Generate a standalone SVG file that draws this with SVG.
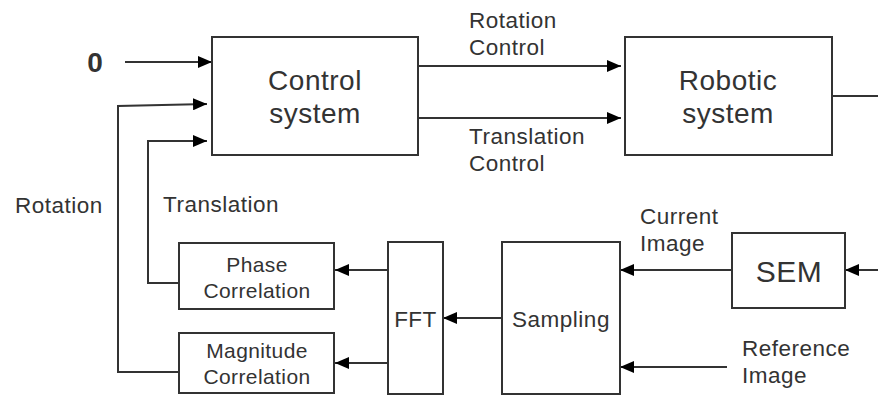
<svg xmlns="http://www.w3.org/2000/svg" width="878" height="396" viewBox="0 0 878 396">
<defs>
<style>
.box{fill:#fff;stroke:#333;stroke-width:2}
.ln{fill:none;stroke:#333;stroke-width:2}
text{font-family:"Liberation Sans",Arial,sans-serif;fill:#333}
.big{font-size:28px;text-anchor:middle;letter-spacing:0.5px}
.mid{font-size:22.5px;letter-spacing:0.5px}
.sm{font-size:21px;text-anchor:middle;letter-spacing:0.4px}
</style>
<marker id="ah" viewBox="0 0 14 12" refX="14" refY="6" markerWidth="14" markerHeight="12" markerUnits="userSpaceOnUse" orient="auto">
<path d="M0,0 L14,6 L0,12 Z" fill="#000"/>
</marker>
</defs>
<rect width="878" height="396" fill="#fff"/>
<g id="connectors">
<line class="ln" x1="125" y1="62" x2="212" y2="62" marker-end="url(#ah)"/>
<polyline class="ln" points="179,372 118,372 118,106 207,104" marker-end="url(#ah)"/>
<polyline class="ln" points="179,283 148,283 148,141 207,141" marker-end="url(#ah)"/>
<line class="ln" x1="418" y1="66" x2="621" y2="66" marker-end="url(#ah)"/>
<line class="ln" x1="418" y1="118" x2="621" y2="118" marker-end="url(#ah)"/>
<line class="ln" x1="832" y1="96" x2="878" y2="96"/>
<line class="ln" x1="388" y1="270" x2="335" y2="270" marker-end="url(#ah)"/>
<line class="ln" x1="388" y1="363" x2="335" y2="363" marker-end="url(#ah)"/>
<line class="ln" x1="502" y1="318" x2="443" y2="318" marker-end="url(#ah)"/>
<line class="ln" x1="732" y1="270" x2="620" y2="270" marker-end="url(#ah)"/>
<line class="ln" x1="878" y1="270" x2="845" y2="270" marker-end="url(#ah)"/>
<line class="ln" x1="727" y1="367" x2="620" y2="367" marker-end="url(#ah)"/>
<text class="mid" x="469" y="28">Rotation</text>
<text class="mid" x="469" y="55">Control</text>
<text class="mid" x="469" y="144">Translation</text>
<text class="mid" x="469" y="171">Control</text>
<text class="mid" x="15" y="213">Rotation</text>
<text class="mid" x="163" y="212">Translation</text>
<text class="mid" x="640" y="224">Current</text>
<text class="mid" x="640" y="251">Image</text>
<text class="mid" x="742" y="356">Reference</text>
<text class="mid" x="742" y="383">Image</text>
</g>
<g id="zero"><text x="95" y="72" style="font-size:28px;font-weight:bold;text-anchor:middle">0</text></g>
<g id="control">
<rect class="box" x="212" y="37" width="206" height="118"/>
<text class="big" x="315" y="90">Control</text>
<text class="big" x="315" y="123">system</text>
</g>
<g id="robotic">
<rect class="box" x="625" y="37" width="207" height="118"/>
<text class="big" x="728" y="90">Robotic</text>
<text class="big" x="728" y="123">system</text>
</g>
<g id="phase">
<rect class="box" x="179" y="243" width="155" height="66"/>
<text class="sm" x="257" y="272">Phase</text>
<text class="sm" x="257" y="298">Correlation</text>
</g>
<g id="magnitude">
<rect class="box" x="179" y="333" width="155" height="60"/>
<text class="sm" x="257" y="358">Magnitude</text>
<text class="sm" x="257" y="384">Correlation</text>
</g>
<g id="fft">
<rect class="box" x="388" y="242" width="55" height="152"/>
<text class="mid" x="415.5" y="327" text-anchor="middle">FFT</text>
</g>
<g id="sampling">
<rect class="box" x="502" y="242" width="118" height="152"/>
<text class="mid" x="561" y="327" text-anchor="middle">Sampling</text>
</g>
<g id="sem">
<rect class="box" x="732" y="233" width="113" height="75"/>
<text x="789" y="282" style="font-size:30px;text-anchor:middle;letter-spacing:0.5px">SEM</text>
</g>
</svg>
